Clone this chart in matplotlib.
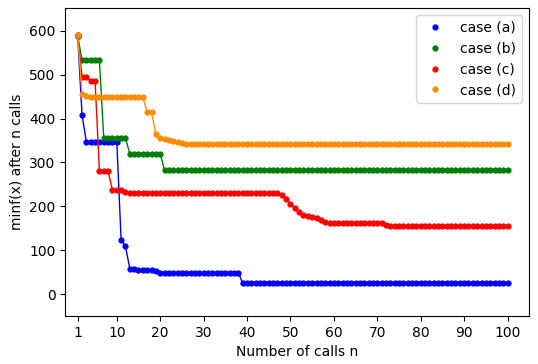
import numpy as np
import matplotlib
matplotlib.use("Agg")
import matplotlib.pyplot as plt

# number of calls
n_calls = np.arange(1, 101)

# best value found so far
case_a = ([590, 408, 347, 347, 347, 347, 347, 347, 347, 347,
           124, 109, 58, 56, 55, 55, 54, 54, 53]
          + [49] * 19 + [24] * 62)
case_b = ([588] + [533] * 5 + [356] * 6 + [320] * 8 + [282] * 80)
case_c = ([588, 495, 495, 486, 486, 280, 280, 280, 237, 237, 237, 233]
          + [231] * 35
          + [225, 217, 206, 195, 186, 180, 177, 175, 173, 169, 164]
          + [162] * 13 + [157] + [155] * 28)
case_d = ([590, 455, 452] + [448] * 13 + [416, 416, 364, 356, 353, 351, 348, 346, 344]
          + [342] * 75)

labels = ["case (a)", "case (b)", "case (c)", "case (d)"]
colors = ["blue", "green", "red", "darkorange"]
xticks = [1, 10, 20, 30, 40, 50, 60, 70, 80, 90, 100]

fig = plt.figure(figsize=(5.38, 3.64), dpi=100)
ax = fig.add_axes([0.121, 0.132, 0.862, 0.846])

for y, lab, c in zip([case_a, case_b, case_c, case_d], labels, colors):
    ax.plot(n_calls, y, color=c, lw=1)
    ax.plot(n_calls, y, ".", color=c, ms=7, label=lab)

ax.set_xticks(xticks)
ax.set_xlim(-1.9, 104.9)
ax.set_ylim(-50, 652)
ax.set_xlabel("Number of calls n")
ax.set_ylabel("minf(x) after n calls")
ax.legend(loc="upper right")

fig.savefig("out.png", dpi=100)
